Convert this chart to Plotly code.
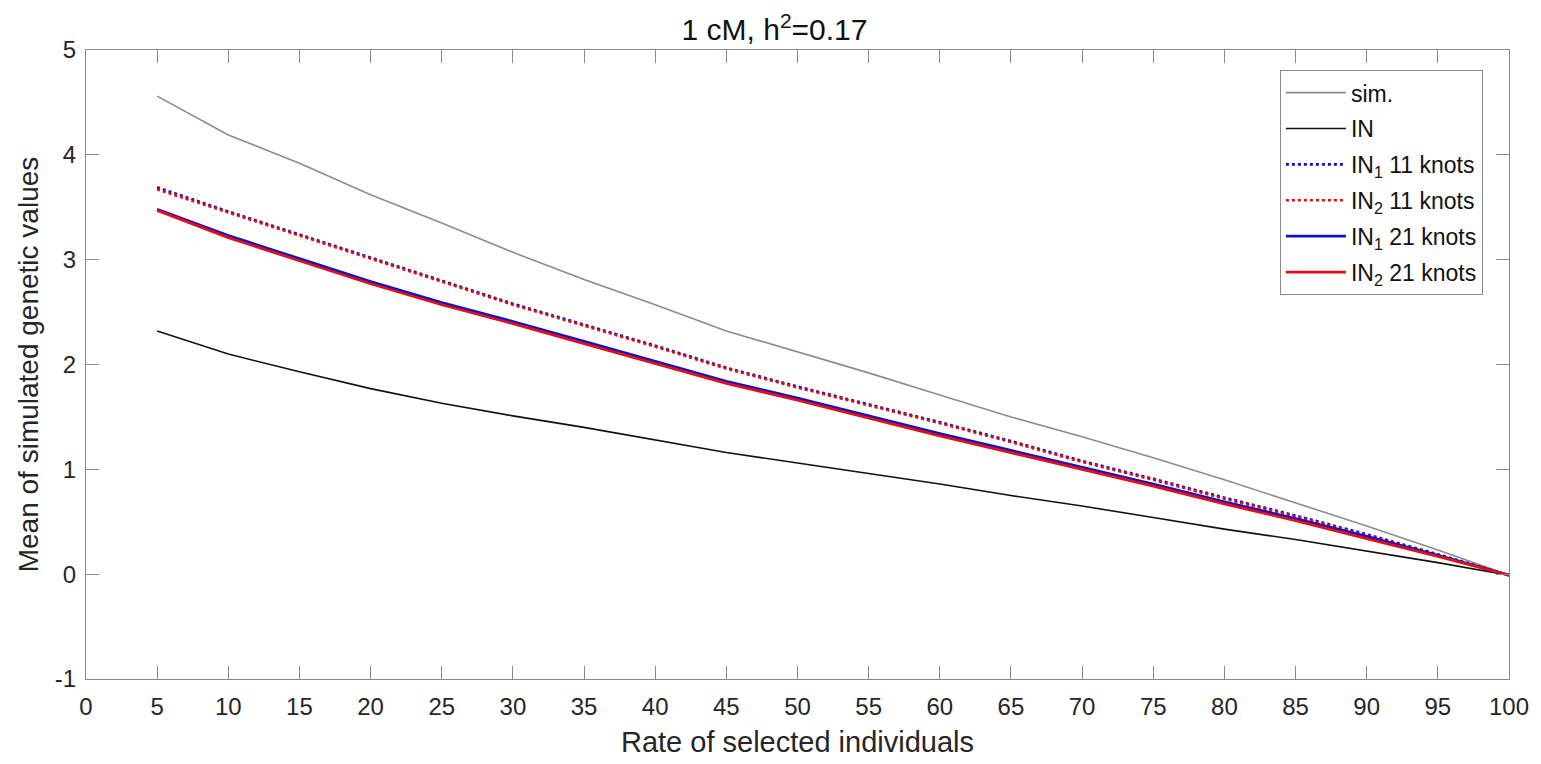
import plotly.graph_objects as go

x = [5, 10, 15, 20, 25, 30, 35, 40, 45, 50, 55, 60, 65, 70, 75, 80, 85, 90, 95, 100]
sim = [4.56, 4.19, 3.92, 3.62, 3.35, 3.07, 2.81, 2.57, 2.32, 2.12, 1.92, 1.71, 1.50, 1.31, 1.11, 0.90, 0.68, 0.46, 0.23, -0.01]
IN = [2.32, 2.10, 1.93, 1.77, 1.63, 1.51, 1.40, 1.28, 1.16, 1.06, 0.96, 0.86, 0.75, 0.65, 0.54, 0.43, 0.33, 0.22, 0.11, -0.01]
IN1_11 = [3.69, 3.46, 3.24, 3.02, 2.80, 2.58, 2.38, 2.18, 1.97, 1.79, 1.62, 1.45, 1.27, 1.08, 0.91, 0.73, 0.56, 0.38, 0.19, -0.01]
IN2_11 = [3.67, 3.45, 3.23, 3.01, 2.79, 2.57, 2.37, 2.17, 1.96, 1.78, 1.61, 1.44, 1.26, 1.07, 0.90, 0.72, 0.55, 0.37, 0.18, -0.01]
IN1_21 = [3.48, 3.23, 3.01, 2.79, 2.59, 2.41, 2.22, 2.03, 1.84, 1.68, 1.51, 1.34, 1.18, 1.02, 0.86, 0.69, 0.53, 0.36, 0.18, -0.01]
IN2_21 = [3.47, 3.21, 2.99, 2.77, 2.57, 2.39, 2.20, 2.01, 1.82, 1.66, 1.49, 1.32, 1.16, 1.00, 0.84, 0.67, 0.51, 0.34, 0.17, -0.01]

x_ticks = list(range(0, 101, 5))
y_ticks = [-1, 0, 1, 2, 3, 4, 5]

FONT = "Liberation Sans, Arial, Helvetica"
TXT = "#262626"

fig = go.Figure()
fig.add_trace(go.Scatter(x=x, y=sim, mode="lines", name="sim.", legendgroup="a",
                         line=dict(color="#8c8c8c", width=1.6)))
fig.add_trace(go.Scatter(x=x, y=IN, mode="lines", name="IN", legendgroup="b",
                         line=dict(color="#111111", width=1.6)))
fig.add_trace(go.Scatter(x=x, y=IN1_11, mode="lines", name="IN<sub>1</sub> 11 knots", legendgroup="c",
                         line=dict(color="#1010d0", width=2.6, dash="dot")))
fig.add_trace(go.Scatter(x=x, y=IN2_11, mode="lines", name="IN<sub>2</sub> 11 knots", legendgroup="d",
                         line=dict(color="#e01010", width=2.6, dash="dot")))
fig.add_trace(go.Scatter(x=x, y=IN1_21, mode="lines", name="IN<sub>1</sub> 21 knots", legendgroup="e",
                         line=dict(color="#1010c8", width=2.8)))
fig.add_trace(go.Scatter(x=x, y=IN2_21, mode="lines", name="IN<sub>2</sub> 21 knots", legendgroup="f",
                         line=dict(color="#e0101a", width=2.8)))

axis_common = dict(showline=True, mirror="ticks", linecolor="#8a8a8a", linewidth=1,
                   ticks="inside", ticklen=13, tickcolor="#8a8a8a", tickwidth=1,
                   showgrid=False, zeroline=False,
                   tickfont=dict(family=FONT, size=24, color=TXT))

fig.update_xaxes(range=[0, 100], tickvals=x_ticks, ticktext=[str(t) for t in x_ticks],
                 ticklabelstandoff=6,
                 title=dict(text="Rate of selected individuals", standoff=12,
                            font=dict(family=FONT, size=29, color=TXT)),
                 **axis_common)
fig.update_yaxes(range=[-1, 5], tickvals=y_ticks, ticktext=[str(t) for t in y_ticks],
                 ticklabelstandoff=4,
                 title=dict(text="Mean of simulated genetic values", standoff=8,
                            font=dict(family=FONT, size=28, color=TXT)),
                 **axis_common)

fig.update_layout(
    width=1533, height=756,
    margin=dict(l=78, r=28, t=42, b=84),
    paper_bgcolor="white", plot_bgcolor="white",
    title=dict(text="1 cM, h<sup>2</sup>=0.17", x=0.5, xanchor="center",
               y=0.971, yanchor="middle",
               font=dict(family=FONT, size=30, color="#111111")),
    legend=dict(x=0.839, y=0.968, xanchor="left", yanchor="top",
                bordercolor="#8a8a8a", borderwidth=1, bgcolor="white",
                itemwidth=60, tracegroupgap=3,
                font=dict(family=FONT, size=23, color="#111111")),
    showlegend=True,
)

fig.write_html("out.html")
